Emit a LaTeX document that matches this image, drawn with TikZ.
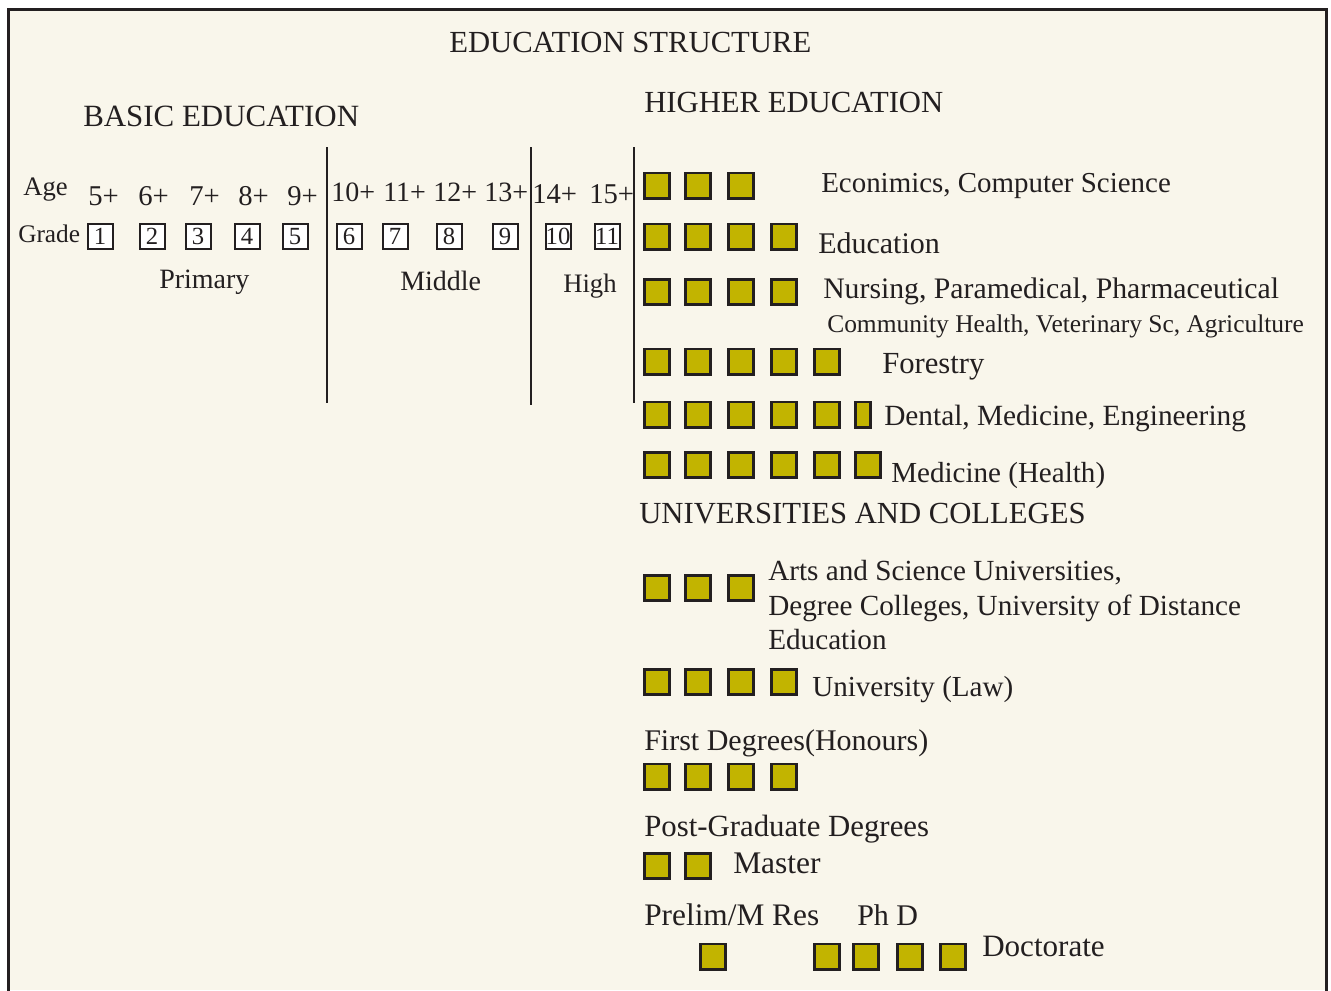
\documentclass[tikz,border=0pt]{standalone}
\usepackage{fontspec}
\setmainfont{Liberation Serif}
\definecolor{cream}{HTML}{F9F6EB}
\definecolor{olive}{HTML}{C2B400}
\definecolor{ink}{HTML}{231F20}
\begin{document}
\begin{tikzpicture}[x=0.75pt,y=-0.75pt,
  txt/.style={inner sep=0pt, anchor=base west, text=ink},
  fsz/.style={font=\fontsize{#1}{#1}\selectfont},
  ob/.style={draw=ink, fill=olive, line width=2pt, minimum size=19pt, inner sep=0pt},
  obn/.style={draw=ink, fill=olive, line width=2pt, minimum width=11.5pt, minimum height=19pt, inner sep=0pt},
  gb/.style={draw=ink, fill=white, line width=1.5pt, minimum size=18.75pt, inner sep=0pt, text=ink, font=\fontsize{18.5}{18.5}\selectfont},
  divider/.style={draw=ink, line width=1.5pt}]
\useasboundingbox (0,0) rectangle (1331,990);
\fill[white] (0,0) rectangle (1331,990);
\fill[cream] (8.5,9.5) rectangle (1326.5,990);
\draw[ink, line width=2.25pt] (8.5,992) -- (8.5,9.5) -- (1326.5,9.5) -- (1326.5,992);

% headings
\node[txt, fsz=23] (title) at (449,52) {EDUCATION STRUCTURE};
\node[txt, fsz=23.2] (basic) at (83,126) {BASIC EDUCATION};
\node[txt, fsz=23] (higher) at (644,112) {HIGHER EDUCATION};

% dividers
\coordinate (d1t) at (327,147); \coordinate (d1b) at (327,403);
\coordinate (d2t) at (531,147); \coordinate (d2b) at (531,405);
\coordinate (d3t) at (634,147); \coordinate (d3b) at (634,403);
\draw[divider] (d1t) -- (d1b);
\draw[divider] (d2t) -- (d2b);
\draw[divider] (d3t) -- (d3b);

% ages
\node[txt, fsz=20] (age) at (23,195) {Age};
\node[txt, fsz=21.5] (a5) at (88,205) {5+};
\node[txt, fsz=21.5] (a6) at (138,205) {6+};
\node[txt, fsz=21.5] (a7) at (189,205) {7+};
\node[txt, fsz=21.5] (a8) at (238,205) {8+};
\node[txt, fsz=21.5] (a9) at (287,205) {9+};
\node[txt, fsz=21] (a10) at (331,201) {10+};
\node[txt, fsz=21] (a11) at (383,201) {11+};
\node[txt, fsz=21] (a12) at (433,201) {12+};
\node[txt, fsz=21] (a13) at (484,201) {13+};
\node[txt, fsz=21.5] (a14) at (532,203) {14+};
\node[txt, fsz=21.5] (a15) at (589,203) {15+};

% grades
\node[txt, fsz=19] (grade) at (18,242) {Grade};
\node[gb] (g1) at (100,236.5) {1};
\node[gb] (g2) at (152,236.5) {2};
\node[gb] (g3) at (198,236.5) {3};
\node[gb] (g4) at (247,236.5) {4};
\node[gb] (g5) at (295,236.5) {5};
\node[gb] (g6) at (349,236.5) {6};
\node[gb] (g7) at (395,236.5) {7};
\node[gb] (g8) at (449,236.5) {8};
\node[gb] (g9) at (505,236.5) {9};
\node[gb] (g10) at (558,236.5) {10};
\node[gb] (g11) at (607,236.5) {11};

\node[txt, fsz=21] (primary) at (159,288) {Primary};
\node[txt, fsz=21] (middle) at (400,290) {Middle};
\node[txt, fsz=20] (high) at (563,292) {High};

% higher education rows
\foreach \i/\x in {1/657,2/698,3/741}
  \node[ob] (eco\i) at (\x,185.5) {};
\node[txt, fsz=21.7] (ecot) at (821,192) {Econimics, Computer Science};

\foreach \i/\x in {1/657,2/698,3/741,4/784}
  \node[ob] (edu\i) at (\x,236.5) {};
\node[txt, fsz=22.5] (edut) at (818,253) {Education};

\foreach \i/\x in {1/657,2/698,3/741,4/784}
  \node[ob] (nur\i) at (\x,292) {};
\node[txt, fsz=22.3] (nurt) at (823,298) {Nursing, Paramedical, Pharmaceutical};
\node[txt, fsz=19.1] (comt) at (827,332) {Community Health, Veterinary Sc, Agriculture};

\foreach \i/\x in {1/657,2/698,3/741,4/784,5/827}
  \node[ob] (for\i) at (\x,361.5) {};
\node[txt, fsz=23] (fort) at (882,373) {Forestry};

\foreach \i/\x in {1/657,2/698,3/741,4/784,5/827}
  \node[ob] (den\i) at (\x,414.5) {};
\node[obn] (den6) at (863,414.5) {};
\node[txt, fsz=22] (dent) at (884,425) {Dental, Medicine, Engineering};

\foreach \i/\x in {1/657,2/698,3/741,4/784,5/827,6/868}
  \node[ob] (med\i) at (\x,465) {};
\node[txt, fsz=21.8] (medt) at (891,482) {Medicine (Health)};

% universities and colleges
\node[txt, fsz=23] (univ) at (639,523) {UNIVERSITIES AND COLLEGES};

\foreach \i/\x in {1/657,2/698,3/741}
  \node[ob] (art\i) at (\x,588) {};
\node[txt, fsz=21.9] (art1t) at (768,580) {Arts and Science Universities,};
\node[txt, fsz=21.9] (art2t) at (768,615) {Degree Colleges, University of Distance};
\node[txt, fsz=21.9] (art3t) at (768,649) {Education};

\foreach \i/\x in {1/657,2/698,3/741,4/784}
  \node[ob] (law\i) at (\x,682) {};
\node[txt, fsz=21.8] (lawt) at (812,696) {University (Law)};

\node[txt, fsz=22.5] (first) at (644,750) {First Degrees(Honours)};
\foreach \i/\x in {1/657,2/698,3/741,4/784}
  \node[ob] (fd\i) at (\x,776.5) {};

\node[txt, fsz=23.1] (post) at (644,836) {Post-Graduate Degrees};
\foreach \i/\x in {1/657,2/698}
  \node[ob] (mas\i) at (\x,866) {};
\node[txt, fsz=23.6] (mast) at (733,873) {Master};

\node[txt, fsz=23.5] (prelim) at (644,925) {Prelim/M Res};
\node[txt, fsz=22.5] (phd) at (857,925) {Ph D};
\node[ob] (pre1) at (713,956.5) {};
\foreach \i/\x in {1/827,2/866,3/910,4/953}
  \node[ob] (doc\i) at (\x,956.5) {};
\node[txt, fsz=23.3] (doct) at (982,956) {Doctorate};
\end{tikzpicture}
\end{document}
